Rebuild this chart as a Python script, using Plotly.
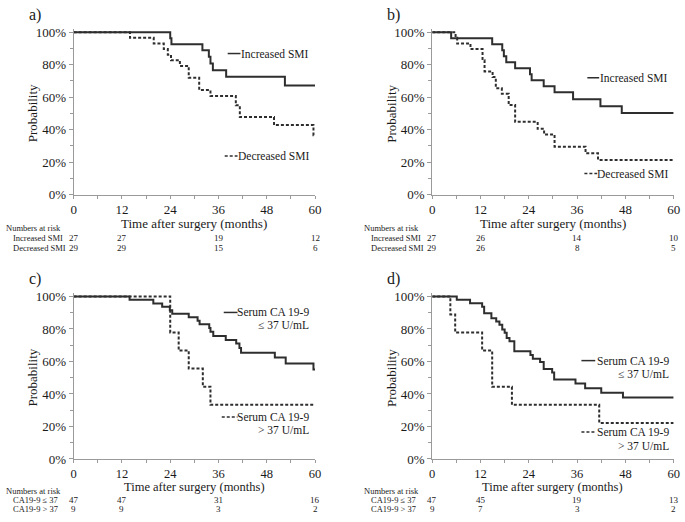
"""
Courbes de survie (Kaplan-Meier) - 4 panneaux a) b) c) d)
"""
import plotly.graph_objects as go

W, H = 685, 522
FONT = "Liberation Serif, Times New Roman, serif"
INK = "#1a1a1a"
CURVE = "#2e2e2e"
AXIS = "#9a9a9a"

# --- données (mois, survie en %) ---
a_inc_t = [0, 24.0, 24.3, 32.0, 33.6, 34.0, 34.6, 37.9, 52.5, 60]
a_inc_s = [100, 96.3, 92.6, 88.9, 84.9, 80.8, 76.6, 72.6, 67.2, 67.2]
a_dec_t = [0, 14.0, 19.9, 22.4, 23.4, 24.2, 26.4, 28.6, 31.2, 34.0, 40.3, 41.3, 49.8, 59.6, 60]
a_dec_s = [100, 96.6, 93.1, 89.7, 86.2, 82.8, 79.3, 72.0, 64.4, 60.8, 55.0, 47.8, 42.8, 36.5, 36.5]

b_inc_t = [0, 4.7, 14.9, 17.4, 17.8, 18.4, 20.6, 24.3, 24.7, 27.7, 30.4, 35.0, 41.8, 47.1, 60]
b_inc_s = [100, 96.3, 92.6, 88.9, 85.2, 81.5, 77.8, 74.1, 70.4, 66.7, 63.0, 58.8, 54.5, 50.3, 50.3]
b_dec_t = [0, 5.8, 6.2, 9.5, 12.5, 13.0, 15.0, 15.8, 17.3, 19.0, 20.6, 26.2, 27.8, 30.4, 38.1, 41.2, 60]
b_dec_s = [100, 96.6, 93.1, 89.7, 82.8, 75.9, 72.4, 65.5, 62.1, 55.2, 44.8, 40.5, 37.0, 29.5, 25.4, 21.3, 21.3]

c_low_t = [0, 13.9, 19.8, 22.0, 23.9, 24.5, 28.6, 30.8, 31.3, 33.7, 34.0, 34.7, 37.8,
           40.4, 41.2, 41.6, 50.0, 52.7, 59.6, 60]
c_low_s = [100, 97.9, 95.7, 93.6, 91.5, 89.4, 87.2, 85.1, 82.9, 80.6, 78.2, 75.7, 73.2,
           71.0, 68.3, 65.4, 62.4, 58.8, 55.1, 55.1]
c_high_t = [0, 24.0, 26.1, 28.6, 32.1, 34.0, 60]
c_high_s = [100, 77.8, 66.7, 55.6, 44.4, 33.3, 33.3]

d_low_t = [0, 6.1, 9.4, 12.4, 12.9, 14.7, 15.9, 16.7, 17.4, 18.0, 18.5, 19.2, 20.4,
           24.4, 25.0, 26.8, 27.7, 29.8, 30.3, 35.6, 38.0, 42.0, 47.4, 60]
d_low_s = [100, 97.9, 95.8, 93.6, 89.6, 86.6, 84.6, 82.6, 79.6, 77.6, 74.5, 72.5, 66.2,
           63.9, 61.7, 59.6, 55.3, 53.2, 48.9, 46.4, 43.5, 40.7, 37.9, 37.9]
d_high_t = [0, 4.5, 5.7, 12.4, 14.9, 19.8, 41.5, 60]
d_high_s = [100, 88.9, 77.8, 66.7, 44.4, 33.3, 22.2, 22.2]

# Nombres à risque
risk_months = [0, 12, 36, 60]
a_risk_inc = [27, 27, 19, 12]
a_risk_dec = [29, 29, 15, 6]
b_risk_inc = [27, 26, 14, 10]
b_risk_dec = [29, 26, 8, 5]
c_risk_low = [47, 47, 31, 16]
c_risk_high = [9, 9, 3, 2]
d_risk_low = [47, 45, 19, 13]
d_risk_high = [9, 7, 3, 2]


def px_x(x):
    return x / W


def px_y(y):
    return 1 - y / H


# Position des panneaux en pixels (x de l'axe y, x à 60 mois, y à 0 %, y à 100 %)
panels = {
    "a": dict(x0=71.7, x1=316.7, y0=195.0, y100=29.0),
    "b": dict(x0=435.6, x1=680.6, y0=195.0, y100=29.0),
    "c": dict(x0=71.7, x1=316.7, y0=465.7, y100=299.3),
    "d": dict(x0=435.6, x1=680.6, y0=465.7, y100=299.3),
}
YMAX = 102

fig = go.Figure()
annotations = []
shapes = []


def setup_axes(idx, p, xfont):
    """Crée les axes d'un panneau"""
    top_px = p["y0"] - (p["y0"] - p["y100"]) * YMAX / 100
    xname = "xaxis" if idx == 1 else f"xaxis{idx}"
    yname = "yaxis" if idx == 1 else f"yaxis{idx}"
    common = dict(showline=True, linecolor=AXIS, linewidth=1, ticks="outside",
                  ticklen=4, tickcolor=AXIS, showgrid=False, zeroline=False,
                  tickfont=dict(family=FONT, size=13, color=INK), fixedrange=True)
    fig.layout[xname] = dict(
        common, domain=[px_x(p["x0"]), px_x(p["x1"])], range=[0, 60],
        tickvals=[0, 12, 24, 36, 48, 60], ticklen=3,
        tickfont=dict(family=FONT, size=xfont, color=INK),
        minor=dict(ticks="outside", ticklen=3, tickcolor=AXIS, dtick=6, tick0=0),
        anchor=f"y{idx}" if idx > 1 else "y",
    )
    fig.layout[yname] = dict(
        common, domain=[px_y(p["y0"]), px_y(top_px)], range=[0, YMAX],
        tickvals=[0, 20, 40, 60, 80, 100],
        ticktext=["0%", "20%", "40%", "60%", "80%", "100%"],
        minor=dict(ticks="outside", ticklen=3, tickcolor=AXIS, dtick=10, tick0=0),
        anchor=f"x{idx}" if idx > 1 else "x",
    )


def add_curve(idx, t, s, dotted):
    fig.add_trace(go.Scatter(
        x=t, y=s, mode="lines", line_shape="hv",
        line=dict(color=CURVE, width=2, dash="3px,2px" if dotted else "solid"),
        xaxis=f"x{idx}" if idx > 1 else "x",
        yaxis=f"y{idx}" if idx > 1 else "y",
        showlegend=False, hoverinfo="skip",
    ))


def text(x, y, s, size=11.5, anchor="left", **kw):
    annotations.append(dict(
        text=s, x=px_x(x), y=px_y(y), xref="paper", yref="paper",
        xanchor=anchor, yanchor="middle", showarrow=False,
        font=dict(family=FONT, size=size, color=INK), **kw))


def legend_key(x0, x1, y, dotted):
    shapes.append(dict(
        type="line", xref="paper", yref="paper",
        x0=px_x(x0), x1=px_x(x1), y0=px_y(y), y1=px_y(y),
        line=dict(color=CURVE, width=1.5, dash="3px,2px" if dotted else "solid")))


def risk_table(idx, p, hdr_y, row_y, labels, rows):
    text(p["x0"] - 71, hdr_y, "Numbers at risk", size=8.5)
    for label, vals, y in zip(labels, rows, row_y):
        text(p["x0"] - 64, y, label, size=8.5)
        for m, v in zip(risk_months, vals):
            annotations.append(dict(
                text=str(v), x=m, y=px_y(y), xref=f"x{idx}" if idx > 1 else "x",
                yref="paper", xanchor="center", yanchor="middle", showarrow=False,
                font=dict(family=FONT, size=9, color=INK)))


# --- construction des 4 panneaux ---
for idx, key in enumerate(["a", "b", "c", "d"], start=1):
    p = panels[key]
    top = key in "ab"
    setup_axes(idx, p, 13 if top else 12.5)
    mid_x = (p["x0"] + p["x1"]) / 2
    # titres d'axes et lettre du panneau
    text(mid_x, p["y0"] + 30 if top else p["y0"] + 28.5,
         "Time after surgery (months)", size=13 if top else 12.5,
         anchor="center")
    text(p["x0"] - 41.5, (p["y0"] + p["y100"]) / 2, "Probability", size=13,
         anchor="center", textangle=-90)
    text(p["x0"] - 39.5, p["y100"] - 18, key + ")", size=16, anchor="center")

add_curve(1, a_inc_t, a_inc_s, False)
add_curve(1, a_dec_t, a_dec_s, True)
add_curve(2, b_inc_t, b_inc_s, False)
add_curve(2, b_dec_t, b_dec_s, True)
add_curve(3, c_low_t, c_low_s, False)
add_curve(3, c_high_t, c_high_s, True)
add_curve(4, d_low_t, d_low_s, False)
add_curve(4, d_high_t, d_high_s, True)

# Légendes manuelles
legend_key(228, 241, 50.7, False)
text(313, 50.7, "Increased SMI", anchor="right")
legend_key(225, 238, 155.7, True)
text(313, 155.7, "Decreased SMI", anchor="right")

legend_key(593, 605, 75.5, False)
text(677, 75.5, "Increased SMI", anchor="right")
legend_key(590, 603, 173.5, True)
text(677, 173.5, "Decreased SMI", anchor="right")

legend_key(224, 238, 315.7, False)
text(313, 315.7, "Serum CA 19-9", anchor="right")
text(313, 329, "≤ 37 U/mL", anchor="right")
legend_key(222, 238, 422.7, True)
text(313, 422.7, "Serum CA 19-9", anchor="right")
text(313, 436, "> 37 U/mL", anchor="right")

legend_key(587, 601, 365, False)
text(678, 365, "Serum CA 19-9", anchor="right")
text(678, 379, "≤ 37 U/mL", anchor="right")
legend_key(587, 601, 438, True)
text(678, 438, "Serum CA 19-9", anchor="right")
text(678, 452.5, "> 37 U/mL", anchor="right")

# Tableaux des nombres à risque
risk_table(1, panels["a"], 229, [239.5, 250], ["Increased SMI", "Decreased SMI"],
           [a_risk_inc, a_risk_dec])
risk_table(2, panels["b"], 229, [239.5, 250], ["Increased SMI", "Decreased SMI"],
           [b_risk_inc, b_risk_dec])
risk_table(3, panels["c"], 498, [507.5, 517], ["CA19-9 ≤ 37", "CA19-9 > 37"],
           [c_risk_low, c_risk_high])
risk_table(4, panels["d"], 498, [507.5, 517], ["CA19-9 ≤ 37", "CA19-9 > 37"],
           [d_risk_low, d_risk_high])

fig.update_layout(
    width=W, height=H,
    margin=dict(l=0, r=0, t=0, b=0),
    paper_bgcolor="white", plot_bgcolor="white",
    font=dict(family=FONT, color=INK),
    annotations=annotations, shapes=shapes,
    showlegend=False,
)

# marge par défaut du <body> retirée pour que la figure tienne dans la fenêtre
fig.write_html("out.html", config={"displayModeBar": False},
               post_script="document.body.style.margin='0';document.body.style.overflow='hidden';")
